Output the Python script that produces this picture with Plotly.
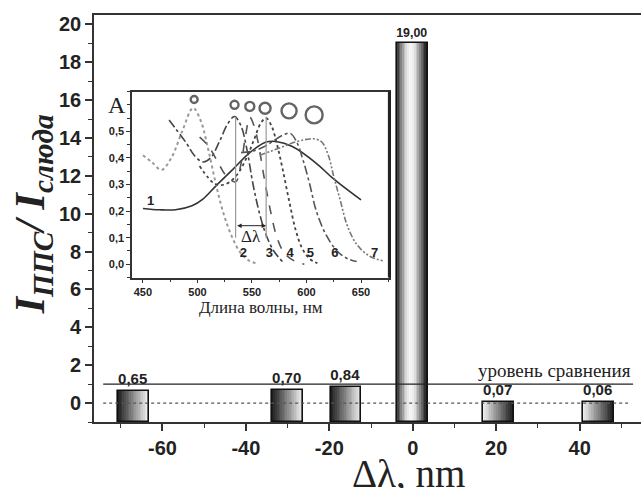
import numpy as np
import plotly.graph_objects as go

# ---------------- main chart data ----------------
shift_nm = [-67, -30, -16, 0, 20.5, 44.5]          # Δλ, nm
ratio = [0.65, 0.70, 0.84, 19.00, 0.07, 0.06]      # I_ППС / I_слюда
comparison_level = 1.0
bar_shading = ["lr", "lr", "lr", "cyl", "rl", "rl"]
x_ticks = [-60, -40, -20, 0, 20, 40]

# ---------------- inset spectra data ----------------
wl_1 = [450, 465, 480, 495, 505, 517, 532, 548, 563, 572, 587, 609, 624, 650]
A_1 = [0.21, 0.205, 0.205, 0.22, 0.245, 0.295, 0.355, 0.42, 0.46, 0.462, 0.443, 0.38, 0.324, 0.242]
wl_2 = [450, 458, 467, 476, 486, 496, 503, 510, 517, 524, 532, 540, 548, 555]
A_2 = [0.41, 0.385, 0.355, 0.40, 0.50, 0.588, 0.54, 0.43, 0.30, 0.19, 0.10, 0.04, 0.012, 0.003]
wl_3 = [474, 480, 490, 497, 505, 512, 520, 528, 534, 540, 545, 551, 557, 563, 570, 578]
A_3 = [0.543, 0.51, 0.455, 0.41, 0.385, 0.40, 0.46, 0.53, 0.556, 0.52, 0.44, 0.30, 0.19, 0.11, 0.05, 0.01]
wl_4 = [502, 510, 518, 526, 535, 540, 544, 548, 552, 556, 561, 567, 573, 580, 590, 598]
A_4 = [0.478, 0.445, 0.39, 0.335, 0.31, 0.38, 0.48, 0.553, 0.52, 0.45, 0.33, 0.20, 0.10, 0.04, 0.01, 0.0]
wl_5 = [502, 510, 517, 525, 535, 545, 552, 558, 563, 568, 573, 578, 584, 590, 596, 603, 610]
A_5 = [0.37, 0.325, 0.30, 0.30, 0.33, 0.40, 0.47, 0.53, 0.55, 0.52, 0.45, 0.36, 0.24, 0.13, 0.06, 0.02, 0.004]
wl_6 = [540, 550, 560, 570, 578, 585, 591, 597, 603, 609, 618, 628, 638, 646]
A_6 = [0.42, 0.425, 0.44, 0.465, 0.485, 0.493, 0.46, 0.39, 0.30, 0.20, 0.11, 0.05, 0.02, 0.01]
wl_7 = [557, 567, 577, 590, 600, 607, 614, 620, 625, 631, 637, 646, 658, 671]
A_7 = [0.41, 0.425, 0.44, 0.46, 0.47, 0.472, 0.46, 0.41, 0.33, 0.24, 0.15, 0.075, 0.03, 0.012]

circle_wl = [497, 534, 548, 562, 584, 607]
circle_A = [0.62, 0.60, 0.594, 0.587, 0.577, 0.562]

curve_names = ["1", "2", "3", "4", "5", "6", "7"]
label_wl = [457, 542, 566, 585, 603.5, 626, 662.5]
label_A = [0.235, 0.04, 0.04, 0.04, 0.04, 0.04, 0.04]

delta_left_wl = 535
delta_right_wl = 563

# ---------------- figure ----------------
Y_MIN, Y_MAX = -1.0, 20.5
X_MIN, X_MAX = -76.4, 54.7
BAR_W = 7.4
N_SLICES = 18

fig = go.Figure()


def shade(style, t):
    dark, light = 25, 245
    if style == "lr":
        f = t
    elif style == "rl":
        f = 1 - t
    else:
        f = max(0.0, np.cos((t - 0.45) / 0.55 * np.pi / 2)) ** 1.6
    g = int(dark + (light - dark) * f)
    return f"rgb({g},{g},{g})"


heights = [v - Y_MIN for v in ratio]
for i in range(N_SLICES):
    t = (i + 0.5) / N_SLICES
    off = (t - 0.5) * BAR_W
    fig.add_trace(go.Bar(
        x=[c + off for c in shift_nm], y=heights, base=Y_MIN,
        width=BAR_W / N_SLICES * 1.02,
        marker=dict(color=[shade(s, t) for s in bar_shading], line=dict(width=0)),
        showlegend=False, hoverinfo="skip", xaxis="x", yaxis="y"))

fig.add_trace(go.Bar(
    x=shift_nm, y=heights, base=Y_MIN, width=BAR_W,
    marker=dict(color="rgba(0,0,0,0)", line=dict(color="#111", width=1.6)),
    text=[f"{v:.2f}".replace(".", ",") for v in ratio],
    textposition="outside", cliponaxis=False,
    textfont=dict(family="Liberation Sans", size=15, color="#222", weight="bold"),
    showlegend=False, xaxis="x", yaxis="y"))

# comparison level line and zero dotted line
fig.add_trace(go.Scatter(x=[-74.2, 52.8], y=[comparison_level] * 2, mode="lines",
                         line=dict(color="#222", width=1.2), showlegend=False,
                         xaxis="x", yaxis="y"))
fig.add_trace(go.Scatter(x=[-74.2, 51.6], y=[0, 0], mode="lines",
                         line=dict(color="#555", width=1.2, dash="dot"), showlegend=False,
                         xaxis="x", yaxis="y"))

# inset curves
styles = [
    dict(color="#333", width=1.6, dash="solid"),
    dict(color="#999", width=2.0, dash="dot"),
    dict(color="#444", width=1.6, dash="dashdot"),
    dict(color="#555", width=1.6, dash="dash"),
    dict(color="#444", width=1.8, dash="dot"),
    dict(color="#555", width=1.6, dash="dashdot"),
    dict(color="#777", width=1.6, dash="6px,2px,2px,2px,2px,2px"),
]
curves = [(wl_1, A_1), (wl_2, A_2), (wl_3, A_3), (wl_4, A_4), (wl_5, A_5), (wl_6, A_6), (wl_7, A_7)]
for (wl, A), st in zip(curves, styles):
    fig.add_trace(go.Scatter(x=wl, y=A, mode="lines", line_shape="spline",
                             line=st, showlegend=False, xaxis="x2", yaxis="y2"))

fig.add_trace(go.Scatter(x=circle_wl, y=circle_A, mode="markers",
                         marker=dict(symbol="circle-open", size=[7, 8, 9, 11, 15, 17],
                                     color="#222", line=dict(width=2.4, color="#222")),
                         showlegend=False, xaxis="x2", yaxis="y2"))
fig.add_trace(go.Scatter(x=label_wl, y=label_A, mode="text", text=curve_names,
                         textfont=dict(family="Liberation Sans", size=13, color="#222", weight="bold"),
                         showlegend=False, xaxis="x2", yaxis="y2"))

# Δλ marks
for w in (delta_left_wl, delta_right_wl):
    fig.add_trace(go.Scatter(x=[w, w], y=[0.10, 0.555], mode="lines",
                             line=dict(color="#999", width=1.2), showlegend=False,
                             xaxis="x2", yaxis="y2"))
fig.add_annotation(x=delta_right_wl, y=0.145, ax=delta_left_wl, ay=0.145,
                   xref="x2", yref="y2", axref="x2", ayref="y2",
                   showarrow=True, arrowhead=2, arrowside="end+start",
                   arrowsize=0.9, arrowwidth=1, arrowcolor="#222", text="")
fig.add_annotation(x=(delta_left_wl + delta_right_wl) / 2, y=0.105, xref="x2", yref="y2",
                   text="Δλ", showarrow=False,
                   font=dict(family="Liberation Serif", size=17, color="#222"))
fig.add_annotation(x=0.0695, y=0.6, xref="paper", yref="y2", xanchor="right", xshift=-4,
                   text="A", showarrow=False,
                   font=dict(family="Liberation Serif", size=24, color="#222"))

# thicker right edge of the inset frame
fig.add_shape(type="line", xref="x2 domain", yref="y2 domain", x0=1, x1=1, y0=0, y1=1,
              line=dict(color="#222", width=3))

# main texts
fig.add_annotation(x=52.8, y=comparison_level, xref="x", yref="y", xanchor="right",
                   yanchor="bottom", yshift=1, text="уровень сравнения", showarrow=False,
                   font=dict(family="Liberation Serif", size=19, color="#222"))
fig.add_annotation(x=-0.11, y=0.51, xref="paper", yref="paper", textangle=-90,
                   xanchor="center", yanchor="middle",
                   text="<b><i>I<sub>ППС</sub>/ I<sub>слюда</sub></i></b>", showarrow=False,
                   font=dict(family="Liberation Serif", size=42, color="#222"))
fig.add_annotation(x=-1, y=-0.127, xref="x", yref="paper", yanchor="middle",
                   text="Δλ, nm", showarrow=False, borderpad=0,
                   font=dict(family="Liberation Serif", size=39, color="#222"))

axis_common = dict(showgrid=False, zeroline=False, linecolor="#333", ticks="outside",
                   tickcolor="#333")

fig.update_layout(
    width=641, height=488, margin=dict(l=94, r=0, t=15, b=66),
    plot_bgcolor="white", paper_bgcolor="white", barmode="overlay",
    separators=",.", bargap=0,
    xaxis=dict(axis_common, range=[X_MIN, X_MAX], tickvals=x_ticks,
               ticktext=[str(v) for v in x_ticks], linewidth=1.6,
               ticklen=7, tickwidth=1.6, mirror=True, showline=True,
               minor=dict(dtick=10, tick0=0, ticklen=4, tickwidth=1.4, ticks="outside", tickcolor="#333"),
               tickfont=dict(family="Liberation Sans", size=20, color="#222", weight="bold")),
    yaxis=dict(axis_common, range=[Y_MIN, Y_MAX], dtick=2, tick0=0, linewidth=1.6,
               ticklen=7, tickwidth=1.6, showline=True,
               minor=dict(dtick=1, ticklen=4, tickwidth=1.4, ticks="outside", tickcolor="#333"),
               tickfont=dict(family="Liberation Sans", size=20, color="#222", weight="bold")),
    xaxis2=dict(axis_common, domain=[0.0695, 0.540], anchor="y2", range=[440, 676],
                dtick=50, tick0=450, ticklen=4, showline=True, mirror=True, linewidth=1.5,
                minor=dict(dtick=25, ticklen=3, ticks="outside", tickcolor="#333"),
                tickfont=dict(family="Liberation Sans", size=11, color="#222", weight="bold"),
                title=dict(text="Длина волны, нм", standoff=2,
                           font=dict(family="Liberation Serif", size=17, color="#222"))),
    yaxis2=dict(axis_common, domain=[0.355, 0.812], anchor="x2", range=[-0.05, 0.65],
                tickvals=[0, 0.1, 0.2, 0.3, 0.4, 0.5],
                ticktext=["0,0", "0,1", "0,2", "0,3", "0,4", "0,5"],
                ticklen=4, showline=True, mirror=True, linewidth=1.5,
                minor=dict(dtick=0.05, ticklen=3, ticks="outside", tickcolor="#333"),
                tickfont=dict(family="Liberation Sans", size=11, color="#222", weight="bold")),
)

fig.write_html("out.html", config={"displayModeBar": False},
               post_script="document.body.style.margin='0';")
